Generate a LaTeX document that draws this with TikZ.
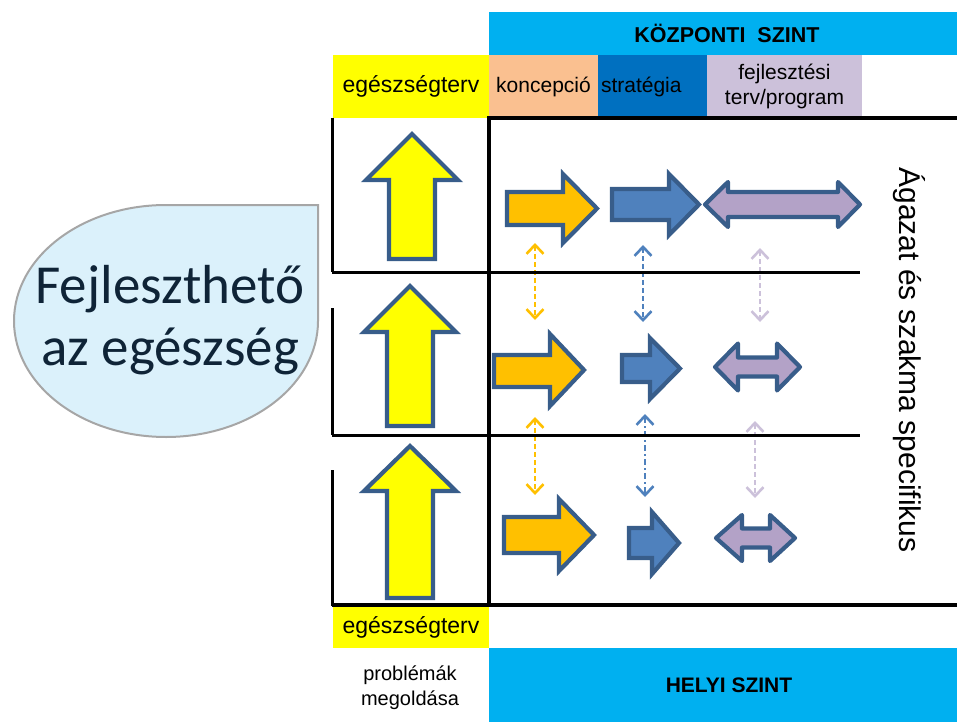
\documentclass[tikz,border=0pt]{standalone}
\usepackage{fontspec}
\setmainfont{Liberation Sans}
\newfontfamily\calibrifont{Carlito}
\usetikzlibrary{arrows.meta}
\definecolor{szintkek}{HTML}{00B0F0}
\definecolor{sarga}{HTML}{FFFF00}
\definecolor{barack}{HTML}{FAC090}
\definecolor{sotetkek}{HTML}{0070C0}
\definecolor{lila}{HTML}{CCC1DA}
\definecolor{keret}{HTML}{385D8A}
\definecolor{narancs}{HTML}{FFC000}
\definecolor{kek}{HTML}{4F81BD}
\definecolor{lilanyil}{HTML}{B3A2C7}
\definecolor{csepp}{HTML}{DBF1FB}
\definecolor{cseppkeret}{HTML}{A6A6A6}
\definecolor{sotetszoveg}{HTML}{0F2437}
\tikzset{
  cell/.style={inner sep=0pt, align=center, font=\fontsize{21}{25}\selectfont},
  nyil/.style={draw=keret, line width=4.2pt, line join=miter},
  kettos/.style={draw=keret, line width=4.2pt, line join=round, fill=lilanyil},
  vonal/.style={line width=3pt},
  vastag/.style={line width=4pt},
  szagg/.style={line width=2.6pt, dash pattern=on 5pt off 3pt,
    {Straight Barb[length=9pt,width=17pt]}-{Straight Barb[length=9pt,width=17pt]}},
}
\begin{document}
\begin{tikzpicture}[x=1pt,y=-1pt]
\useasboundingbox (0,0) rectangle (957,722);
% fejlec
\node [cell, fill=szintkek, minimum width=468pt, minimum height=43pt, font=\bfseries\fontsize{21.5}{25}\selectfont] (kozponti) at (723,33.5) {\hspace*{8pt}KÖZPONTI\ \ SZINT};
\node [cell, fill=sarga, minimum width=156pt, minimum height=63pt, font=\fontsize{23}{25}\selectfont] (tervfent) at (411,86.5) {egészségterv};
\node [cell, fill=barack, minimum width=109pt, minimum height=63pt] (koncepcio) at (543.5,86.5) {koncepció};
\node [cell, fill=sotetkek, minimum width=109pt, minimum height=63pt] (strategia) at (652.5,86.5) {};
\node [cell, anchor=west] (strategiatxt) at ([xshift=3pt]strategia.west) {stratégia};
\node [cell, fill=lila, minimum width=155pt, minimum height=63pt] (fejlesztesi) at (784.5,86.5) {fejlesztési\\terv/program};
% also sor
\node [cell, fill=sarga, minimum width=156pt, minimum height=42pt, font=\fontsize{23}{25}\selectfont] (tervlent) at (411,627) {egészségterv};
\node [cell, fill=szintkek, minimum width=468pt, minimum height=74pt, font=\bfseries\fontsize{21}{25}\selectfont] (helyi) at (723,685) {\hspace*{12pt}HELYI SZINT};
\node [cell, font=\fontsize{20}{25}\selectfont] (problemak) at (410,688) {problémák\\megoldása};
% oldalso felirat
\node [rotate=-90, inner sep=0pt, font=\fontsize{30}{30}\selectfont] (agazat) at (909,360) {Ágazat és szakma specifikus};
% csepp
\draw [fill=csepp, draw=cseppkeret, line width=2pt] (318,205) -- (166,205) arc [start angle=270, end angle=0, x radius=152, y radius=116] -- cycle;
\node [align=center, inner sep=0pt, text=sotetszoveg, font=\calibrifont\fontsize{55}{62}\selectfont] (fejlesztheto) at (170,320) {Fejleszthető\\az egészség};
% szaggatott nyilak
\coordinate (nf1) at (535,243); \coordinate (na1) at (535,320);
\coordinate (kf1) at (643,245); \coordinate (ka1) at (643,322);
\coordinate (lf1) at (760,248); \coordinate (la1) at (760,322);
\coordinate (nf2) at (535,417); \coordinate (na2) at (535,495);
\coordinate (kf2) at (645,414); \coordinate (ka2) at (645,497);
\coordinate (lf2) at (755,421); \coordinate (la2) at (755,498);
\draw [szagg, narancs] (nf1) -- (na1);
\draw [szagg, kek] (kf1) -- (ka1);
\draw [szagg, lila] (lf1) -- (la1);
\draw [szagg, narancs] (nf2) -- (na2);
\draw [szagg, kek, dash pattern=on 6pt off 3pt on 2pt off 3pt] (kf2) -- (ka2);
\draw [szagg, lila] (lf2) -- (la2);
% vonalak
\draw [vonal] (332,118) -- (332,272);
\draw [vonal] (332,308) -- (332,435);
\draw [vonal] (332,470) -- (332,606);
\draw [vonal] (332,272) -- (860,272);
\draw [vonal] (332,435) -- (860,435);
\draw [vastag] (957,118) -- (489,118) -- (489,605);
\draw [vastag] (332,605) -- (957,605);
% sarga felfele nyilak
\draw [nyil, fill=sarga] (412,134) -- (458,180) -- (435,180) -- (435,259) -- (389,259) -- (389,180) -- (366,180) -- cycle;
\draw [nyil, fill=sarga] (410,286) -- (456,332) -- (433,332) -- (433,426) -- (387,426) -- (387,332) -- (364,332) -- cycle;
\draw [nyil, fill=sarga] (410,446) -- (456,491) -- (433,491) -- (433,598) -- (387,598) -- (387,491) -- (364,491) -- cycle;
% 1. sor
\draw [nyil, fill=narancs] (507,192) -- (563,192) -- (563,174) -- (597,208.5) -- (563,243) -- (563,225) -- (507,225) -- cycle;
\draw [nyil, fill=kek] (612,189) -- (669,189) -- (669,174) -- (699,204.5) -- (669,235) -- (669,220) -- (612,220) -- cycle;
\draw [kettos] (705,204.5) -- (728,182) -- (728,192) -- (838,192) -- (838,182) -- (860,204.5) -- (838,227) -- (838,217) -- (728,217) -- (728,227) -- cycle;
% 2. sor
\draw [nyil, fill=narancs] (494,355) -- (550,355) -- (550,334) -- (584,370) -- (550,406) -- (550,387) -- (494,387) -- cycle;
\draw [nyil, fill=kek] (622,355) -- (650,355) -- (650,338) -- (680,368.5) -- (650,399) -- (650,382) -- (622,382) -- cycle;
\draw [kettos] (715,367) -- (738,343.5) -- (738,357.5) -- (777,357.5) -- (777,343.5) -- (800,367) -- (777,390.5) -- (777,376.5) -- (738,376.5) -- (738,390.5) -- cycle;
% 3. sor
\draw [nyil, fill=narancs] (504,517) -- (559,517) -- (559,499) -- (594,535) -- (559,571) -- (559,553) -- (504,553) -- cycle;
\draw [nyil, fill=kek] (629,528) -- (652,528) -- (652,512) -- (679,543) -- (652,574) -- (652,558) -- (629,558) -- cycle;
\draw [kettos] (716,538) -- (742,515) -- (742,528.5) -- (770,528.5) -- (770,515) -- (795,538) -- (770,561) -- (770,547.5) -- (742,547.5) -- (742,561) -- cycle;
\end{tikzpicture}
\end{document}
